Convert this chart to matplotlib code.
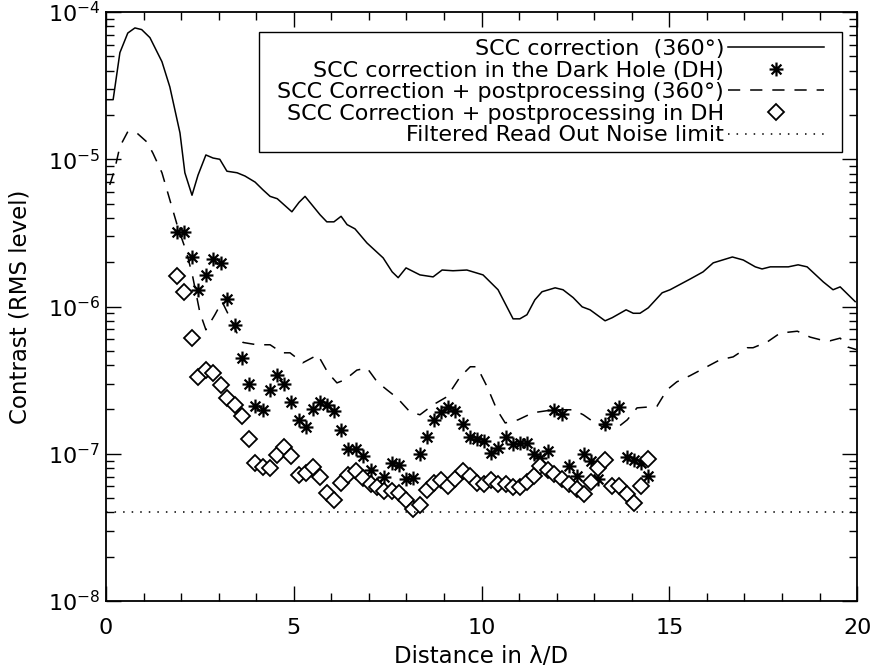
import matplotlib
matplotlib.use("Agg")
import matplotlib.pyplot as plt
import numpy as np
from matplotlib.path import Path
from matplotlib.lines import Line2D
from matplotlib.ticker import LogLocator, MultipleLocator

# ---- data ----
# SCC correction, full 360 deg (solid)
scc_x = [0.01, 0.19, 0.37, 0.58, 0.77, 0.95, 1.17, 1.49, 1.70, 1.97, 2.10, 2.29, 2.45,
         2.66, 2.85, 3.03, 3.22, 3.49, 3.70, 3.97, 4.18, 4.37, 4.56, 4.95, 5.14, 5.30,
         5.70, 5.88, 6.07, 6.26, 6.42, 6.63, 6.95, 7.38, 7.62, 7.78, 7.99, 8.36, 8.71,
         8.95, 9.24, 9.61, 10.04, 10.44, 10.84, 11.02, 11.21, 11.42, 11.61, 11.96, 12.17,
         12.44, 12.68, 12.89, 13.29, 13.48, 13.85, 14.04, 14.22, 14.44, 14.81, 15.02,
         15.56, 15.90, 16.17, 16.68, 16.97, 17.29, 17.47, 17.69, 18.17, 18.43, 18.67,
         19.10, 19.36, 19.55, 19.95]
scc_y = [2.54e-5, 2.54e-5, 5.3e-5, 7.2e-5, 7.8e-5, 7.6e-5, 6.7e-5, 4.6e-5, 3.1e-5, 1.51e-5,
         8.1e-6, 5.7e-6, 7.8e-6, 1.07e-5, 1.02e-5, 1.0e-5, 8.3e-6, 8.1e-6, 7.7e-6, 7.0e-6,
         6.2e-6, 5.6e-6, 5.4e-6, 4.4e-6, 5.1e-6, 5.6e-6, 4.2e-6, 3.76e-6, 3.76e-6, 4.1e-6,
         3.6e-6, 3.37e-6, 2.7e-6, 2.14e-6, 1.72e-6, 1.57e-6, 1.83e-6, 1.64e-6, 1.59e-6,
         1.77e-6, 1.75e-6, 1.77e-6, 1.64e-6, 1.30e-6, 8.25e-7, 8.25e-7, 8.8e-7, 1.11e-6,
         1.26e-6, 1.34e-6, 1.30e-6, 1.15e-6, 9.95e-7, 9.5e-7, 8.0e-7, 8.4e-7, 9.5e-7,
         9.0e-7, 9.0e-7, 9.8e-7, 1.24e-6, 1.30e-6, 1.54e-6, 1.72e-6, 1.98e-6, 2.17e-6,
         2.07e-6, 1.86e-6, 1.8e-6, 1.86e-6, 1.86e-6, 1.92e-6, 1.86e-6, 1.47e-6, 1.30e-6,
         1.36e-6, 1.08e-6]

# SCC correction + postprocessing, 360 deg (dashed)
post_x = [0.10, 0.23, 0.37, 0.58, 0.82, 1.09, 1.25, 1.49, 1.70, 1.91, 2.15, 2.31, 2.50,
          2.66, 2.90, 3.09, 3.30, 3.49, 3.65, 4.02, 4.37, 4.69, 4.90, 5.24, 5.64, 5.91,
          6.15, 6.36, 6.68, 6.95, 7.22, 7.48, 7.75, 8.09, 8.36, 8.71, 9.08, 9.43, 9.70,
          9.88, 10.15, 10.41, 10.63, 10.97, 11.37, 11.91, 12.44, 12.71, 13.02, 13.24,
          13.61, 13.88, 14.14, 14.67, 14.94, 15.20, 15.55, 16.00, 16.35, 16.70, 17.07,
          17.23, 17.61, 17.95, 18.41, 18.75, 19.02, 19.28, 19.55, 19.76, 19.98]
post_y = [6.7e-6, 8.5e-6, 1.22e-5, 1.54e-5, 1.51e-5, 1.31e-5, 1.1e-5, 8.1e-6, 5.3e-6,
          3.47e-6, 2.32e-6, 1.59e-6, 9.1e-7, 6.95e-7, 8.8e-7, 1.08e-6, 8.4e-7, 6.6e-7,
          5.7e-7, 5.5e-7, 5.5e-7, 4.85e-7, 4.85e-7, 4.15e-7, 4.7e-7, 3.55e-7, 3.03e-7,
          3.18e-7, 3.7e-7, 3.83e-7, 3.08e-7, 2.72e-7, 2.4e-7, 1.93e-7, 1.84e-7, 2.15e-7,
          2.44e-7, 3.33e-7, 3.9e-7, 3.9e-7, 2.85e-7, 1.99e-7, 1.62e-7, 1.7e-7, 1.9e-7,
          1.99e-7, 1.99e-7, 1.84e-7, 1.62e-7, 1.52e-7, 1.5e-7, 1.7e-7, 2.05e-7, 2.1e-7,
          2.72e-7, 3.08e-7, 3.39e-7, 3.9e-7, 4.35e-7, 4.55e-7, 5.25e-7, 5.25e-7, 5.75e-7,
          6.6e-7, 6.8e-7, 6.2e-7, 5.95e-7, 5.85e-7, 6.1e-7, 5.3e-7, 5.1e-7]

# Dark Hole samples (shared x grid for stars and diamonds)
dh_x = [1.88, 2.07, 2.28, 2.45, 2.66, 2.85, 3.05, 3.23, 3.43, 3.61, 3.80, 3.98, 4.17,
        4.36, 4.56, 4.74, 4.92, 5.14, 5.32, 5.52, 5.70, 5.89, 6.08, 6.27, 6.45, 6.66,
        6.85, 7.05, 7.22, 7.40, 7.61, 7.80, 7.99, 8.17, 8.36, 8.56, 8.74, 8.91, 9.12,
        9.29, 9.50, 9.69, 9.89, 10.07, 10.24, 10.45, 10.65, 10.84, 11.03, 11.21, 11.39,
        11.56, 11.78, 11.93, 12.14, 12.34, 12.54, 12.72, 12.91, 13.11, 13.29, 13.47,
        13.67, 13.87, 14.05, 14.24, 14.44]
dh_scc = [3.23e-6, 3.23e-6, 2.16e-6, 1.30e-6, 1.64e-6, 2.1e-6, 1.99e-6, 1.12e-6, 7.5e-7,
          4.47e-7, 2.98e-7, 2.12e-7, 1.97e-7, 2.72e-7, 3.43e-7, 2.98e-7, 2.23e-7, 1.70e-7,
          1.52e-7, 2.01e-7, 2.23e-7, 2.15e-7, 1.94e-7, 1.44e-7, 1.08e-7, 1.08e-7, 9.6e-8,
          7.8e-8, 6.2e-8, 6.95e-8, 8.7e-8, 8.4e-8, 6.7e-8, 6.8e-8, 1.0e-7, 1.30e-7, 1.70e-7,
          1.91e-7, 2.07e-7, 1.94e-7, 1.60e-7, 1.30e-7, 1.26e-7, 1.23e-7, 1.02e-7, 1.09e-7,
          1.30e-7, 1.17e-7, 1.18e-7, 1.18e-7, 1.0e-7, 9.35e-8, 1.05e-7, 1.97e-7, 1.87e-7,
          8.2e-8, 7.1e-8, 1.0e-7, 8.9e-8, 6.7e-8, 1.60e-7, 1.87e-7, 2.07e-7, 9.5e-8, 9.1e-8,
          8.65e-8, 7.1e-8]
dh_post = [1.61e-6, 1.26e-6, 6.1e-7, 3.32e-7, 3.68e-7, 3.53e-7, 2.94e-7, 2.39e-7, 2.15e-7,
           1.81e-7, 1.26e-7, 8.7e-8, 8.1e-8, 8.0e-8, 9.8e-8, 1.11e-7, 9.6e-8, 7.2e-8, 7.4e-8,
           8.1e-8, 6.95e-8, 5.4e-8, 4.87e-8, 6.3e-8, 7.2e-8, 7.6e-8, 6.84e-8, 6.2e-8, 5.95e-8,
           5.55e-8, 5.55e-8, 5.4e-8, 4.87e-8, 4.22e-8, 4.5e-8, 5.64e-8, 6.38e-8, 6.6e-8,
           6.07e-8, 6.73e-8, 7.6e-8, 7.1e-8, 6.3e-8, 6.2e-8, 6.65e-8, 6.2e-8, 6.25e-8,
           5.95e-8, 5.95e-8, 6.48e-8, 7.06e-8, 8.2e-8, 7.8e-8, 7.26e-8, 6.73e-8, 6.2e-8,
           5.75e-8, 5.35e-8, 6.45e-8, 8.05e-8, 9.1e-8, 6.04e-8, 6.07e-8, 5.35e-8, 4.65e-8,
           6.04e-8, 9.2e-8]

ron_limit = 4.0e-8

labels = ["SCC correction  (360\u00b0)",
          "SCC correction in the Dark Hole (DH)",
          "SCC Correction + postprocessing (360\u00b0)",
          "SCC Correction + postprocessing in DH",
          "Filtered Read Out Noise limit"]

# IDL style asterisk: + and x combined
d = np.sqrt(0.5)
star = Path([(0, -1), (0, 1), (-1, 0), (1, 0), (-d, -d), (d, d), (-d, d), (d, -d)],
            [Path.MOVETO, Path.LINETO] * 4)

DASHED = (0, (8, 6.5))
DOTTED = (0, (1, 4.6))

plt.rcParams['font.family'] = ['DejaVu Sans']
plt.rcParams['mathtext.fontset'] = 'dejavusans'

fig = plt.figure(figsize=(8.71, 6.69), dpi=100)
ax = fig.add_axes([0.1217, 0.1016, 0.8623, 0.8804])

ax.plot(scc_x, scc_y, color='black', lw=1.1, ls='-')
ax.plot(dh_x, dh_scc, ls='none', marker=star, ms=10, mew=1.6, mec='black', color='black')
ax.plot(post_x, post_y, color='black', lw=1.1, ls=DASHED)
ax.plot(dh_x, dh_post, ls='none', marker='D', ms=8, mew=1.3, mfc='white', mec='black')
ax.axhline(ron_limit, color='black', lw=1.1, ls=DOTTED)

ax.set_yscale('log')
ax.set_xlim(0, 20)
ax.set_ylim(1e-8, 1e-4)
ax.xaxis.set_major_locator(MultipleLocator(5))
ax.xaxis.set_minor_locator(MultipleLocator(1))
ax.yaxis.set_major_locator(LogLocator(base=10, numticks=10))
ax.yaxis.set_minor_locator(LogLocator(base=10, subs=np.arange(2, 10), numticks=10))
ax.tick_params(which='both', direction='in', top=True, right=True, width=1.0,
               labelsize=16)
ax.tick_params(which='major', length=11)
ax.tick_params(which='minor', length=5.5)
ax.tick_params(axis='x', pad=12)
ax.tick_params(axis='y', pad=4)
for s in ax.spines.values():
    s.set_linewidth(1.3)

ax.set_xlabel("Distance in \u03bb/D", fontsize=16.5, labelpad=5)
ax.set_ylabel("Contrast (RMS level)", fontsize=16.5, labelpad=12)

handles = [Line2D([], [], color='black', lw=1.1),
           Line2D([], [], ls='none', marker=star, ms=10, mew=1.6, mec='black'),
           Line2D([], [], color='black', lw=1.1, ls=DASHED),
           Line2D([], [], ls='none', marker='D', ms=8, mew=1.3, mfc='white', mec='black'),
           Line2D([], [], color='black', lw=1.1, ls=DOTTED)]
# entries placed by their own box; the frame gets wider side padding than top/bottom
leg = ax.legend(handles, labels, loc='upper right', bbox_to_anchor=(0.956, 0.954),
                borderaxespad=0, markerfirst=False, numpoints=1, fontsize=16,
                handlelength=4.32, handletextpad=0.18, labelspacing=0.07,
                borderpad=0.0, fancybox=False, framealpha=1, edgecolor='black')
frame = leg.get_frame()
frame.set_boxstyle('square', pad=0.81)
frame.set_mutation_aspect(0.39)
frame.set_linewidth(1.0)

fig.savefig("out.png", dpi=100)
